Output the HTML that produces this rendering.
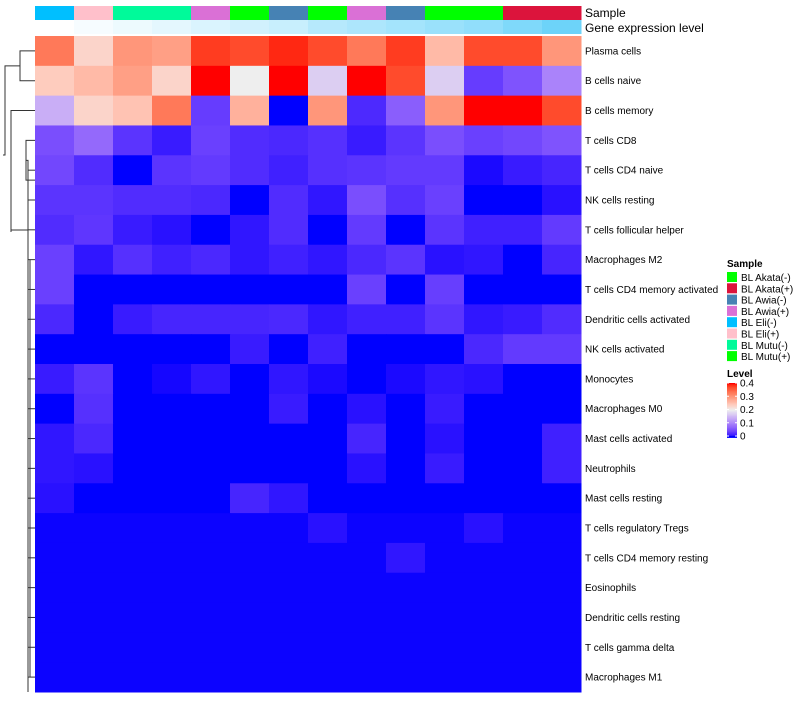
<!DOCTYPE html>
<html><head><meta charset="utf-8"><style>
body{margin:0;background:#fff;font-family:"Liberation Sans",sans-serif;}
svg text{font-family:"Liberation Sans",sans-serif;}
</style></head><body>
<svg id="chart" width="800" height="700">
<g id="dendro" stroke="#333" fill="none" stroke-width="1"></g>
<g id="anno"></g>
<g id="cells"></g>
<g id="labels" font-size="10" fill="#000"></g>
<g id="legend"></g>
</svg>
<script>
const rowNames=["Plasma cells","B cells naive","B cells memory","T cells CD8","T cells CD4 naive","NK cells resting","T cells follicular helper","Macrophages M2","T cells CD4 memory activated","Dendritic cells activated","NK cells activated","Monocytes","Macrophages M0","Mast cells activated","Neutrophils","Mast cells resting","T cells regulatory  Tregs","T cells CD4 memory resting","Eosinophils","Dendritic cells resting","T cells gamma delta","Macrophages M1"];
const sampleCols=["BL Eli(-)","BL Eli(+)","BL Mutu(-)","BL Mutu(-)","BL Awia(+)","BL Mutu(+)","BL Awia(-)","BL Mutu(+)","BL Awia(+)","BL Awia(-)","BL Akata(-)","BL Akata(-)","BL Akata(+)","BL Akata(+)"];
const geneLevel=[0,0.05,0.1,0.15,0.2,0.25,0.3,0.4,0.45,0.5,0.55,0.6,0.7,0.8];
const legendSamples=["BL Akata(-)","BL Akata(+)","BL Awia(-)","BL Awia(+)","BL Eli(-)","BL Eli(+)","BL Mutu(-)","BL Mutu(+)"];
const levelTicks=[0,0.1,0.2,0.3,0.4];
const values=[
[0.33,0.23,0.30,0.29,0.38,0.37,0.39,0.37,0.33,0.38,0.26,0.37,0.37,0.30],
[0.24,0.26,0.29,0.23,0.42,0.20,0.42,0.17,0.42,0.37,0.17,0.035,0.055,0.10],
[0.14,0.23,0.25,0.33,0.035,0.27,0.00,0.30,0.02,0.065,0.30,0.42,0.41,0.37],
[0.05,0.075,0.028,0.011,0.038,0.022,0.019,0.025,0.011,0.028,0.05,0.038,0.044,0.055],
[0.044,0.022,0.00,0.028,0.033,0.022,0.014,0.025,0.028,0.033,0.033,0.003,0.011,0.017],
[0.028,0.028,0.022,0.022,0.019,0.00,0.022,0.008,0.05,0.025,0.038,0.00,0.00,0.006],
[0.022,0.03,0.011,0.006,0.00,0.008,0.022,0.00,0.033,0.00,0.028,0.014,0.014,0.033],
[0.038,0.008,0.025,0.014,0.019,0.008,0.014,0.008,0.019,0.028,0.006,0.008,0.00,0.017],
[0.038,0,0,0,0,0,0,0,0.038,0,0.036,0,0,0],
[0.019,0,0.011,0.017,0.017,0.017,0.019,0.008,0.014,0.014,0.028,0.008,0.011,0.022],
[0,0,0,0,0,0.011,0,0.014,0,0,0,0.019,0.033,0.033],
[0.011,0.028,0,0.002,0.008,0,0.008,0.003,0,0.003,0.008,0.006,0,0],
[0,0.025,0,0,0,0,0.011,0,0.006,0,0.011,0,0,0],
[0.008,0.019,0,0,0,0,0,0,0.017,0,0.006,0,0,0.014],
[0.008,0.006,0,0,0,0,0,0,0.006,0,0.011,0,0,0.014],
[0.006,0,0,0,0,0.017,0.008,0,0,0,0,0,0,0],
[0.001,0.001,0.001,0.001,0.001,0.001,0.001,0.006,0.001,0.001,0.001,0.006,0.001,0.001],
[0.001,0.001,0.001,0.001,0.001,0.001,0.001,0.001,0.001,0.008,0.001,0.001,0.001,0.001],
[0.001,0.001,0.001,0.001,0.001,0.001,0.001,0.001,0.001,0.001,0.001,0.001,0.001,0.001],
[0.001,0.001,0.001,0.001,0.001,0.001,0.001,0.001,0.001,0.001,0.001,0.001,0.001,0.001],
[0.001,0.001,0.001,0.001,0.001,0.001,0.001,0.001,0.001,0.001,0.001,0.001,0.001,0.001],
[0.001,0.001,0.001,0.001,0.001,0.001,0.001,0.001,0.001,0.001,0.001,0.001,0.001,0.001]];
const sampleColor={"BL Akata(-)":"#00ff00","BL Akata(+)":"#dc143c","BL Awia(-)":"#4682b4","BL Awia(+)":"#da70d6","BL Eli(-)":"#00bfff","BL Eli(+)":"#ffc0cb","BL Mutu(-)":"#00fa9a","BL Mutu(+)":"#00ff00"};

const NS="http://www.w3.org/2000/svg";
function mk(t,a,p){const e=document.createElementNS(NS,t);for(const k in a)e.setAttribute(k,a[k]);p.appendChild(e);return e;}
function toLab(h){let r=parseInt(h.substr(1,2),16)/255,g=parseInt(h.substr(3,2),16)/255,b=parseInt(h.substr(5,2),16)/255;
[r,g,b]=[r,g,b].map(c=>c>0.04045?Math.pow((c+0.055)/1.055,2.4):c/12.92);
let x=(r*0.4124+g*0.3576+b*0.1805)/0.95047,y=r*0.2126+g*0.7152+b*0.0722,z=(r*0.0193+g*0.1192+b*0.9505)/1.08883;
const f=t=>t>0.008856?Math.cbrt(t):7.787*t+16/116;x=f(x);y=f(y);z=f(z);return[116*y-16,500*(x-y),200*(y-z)];}
function fromLab(L,a,bb){let y=(L+16)/116,x=a/500+y,z=y-bb/200;const fi=t=>t*t*t>0.008856?t*t*t:(t-16/116)/7.787;
x=fi(x)*0.95047;y=fi(y);z=fi(z)*1.08883;
let r=x*3.2406+y*-1.5372+z*-0.4986,g=x*-0.9689+y*1.8758+z*0.0415,b=x*0.0557+y*-0.2040+z*1.0570;
return "rgb("+[r,g,b].map(c=>{c=c>0.0031308?1.055*Math.pow(c,1/2.4)-0.055:12.92*c;return Math.round(Math.max(0,Math.min(1,c))*255);}).join(",")+")";}
const stops=[[0,toLab("#0000ff")],[0.2,toLab("#eeeeee")],[0.4,toLab("#ff0000")]];
function color(v){v=Math.max(0,Math.min(0.4,v));let i=v<=0.2?0:1;const [a,la]=stops[i],[b,lb]=stops[i+1];const t=(v-a)/(b-a);
return fromLab(la[0]+t*(lb[0]-la[0]),la[1]+t*(lb[1]-la[1]),la[2]+t*(lb[2]-la[2]));}
function geneColor(v){const w=[255,255,255],c=[72,200,248];return "rgb("+w.map((x,i)=>Math.round(x+v*(c[i]-x))).join(",")+")";}

const X0=35,X1=581,Y0=36,Y1=692;
const cw=(X1-X0)/sampleCols.length,rh=(Y1-Y0)/rowNames.length;
const xS=j=>X0+j*cw, yS=i=>Y0+i*rh;

const anno=document.getElementById('anno');
sampleCols.forEach((s,j)=>{
 const r=mk('rect',{x:xS(j),y:6,width:cw+0.5,height:14,fill:sampleColor[s]},anno);
 
 
 const g=mk('rect',{x:xS(j),y:20,width:cw+0.5,height:14,fill:geneColor(geneLevel[j])},anno);
 
 
});
let t=mk('text',{x:585,y:17,"font-size":12},anno);t.textContent="Sample";

t=mk('text',{x:585,y:32,"font-size":12},anno);t.textContent="Gene expression level";


const cells=document.getElementById('cells'),labels=document.getElementById('labels');
values.forEach((row,i)=>{
 row.forEach((v,j)=>{
  const c=mk('rect',{x:xS(j),y:yS(i),width:cw+0.5,height:rh+0.5,fill:color(v)},cells);
  
  
 });
 const l=mk('text',{x:585,y:yS(i)+rh/2+3.5},labels);l.textContent=rowNames[i];
 l.setAttribute('xml:space','preserve');
 
 
});

const dg=document.getElementById('dendro');
const cy=i=>yS(i)+rh/2;
function seg(d){mk('path',{d:d},dg);}
seg(`M35 ${cy(0)} H20 V${cy(1)} H35`);
seg(`M20 ${(cy(0)+cy(1))/2} H5 V155 H3`);
seg(`M35 ${cy(2)} H11 V232 H11`);
seg(`M11 ${cy(2)} V230`);
seg(`M35 ${cy(3)} H26 V${cy(4)+10} H35`);
seg(`M26 ${cy(3)+20} H28 V${Y1}`);
seg(`M11 230 H28`);
for(let i=4;i<rowNames.length;i++){seg(`M28 ${cy(i)} H35`);}
for(let i=7;i<rowNames.length-1;i++){seg(`M30 ${cy(i)} V${cy(i+1)}`);}

const lg=document.getElementById('legend');
t=mk('text',{x:727,y:267,"font-size":10,"font-weight":"bold"},lg);t.textContent="Sample";

legendSamples.forEach((s,k)=>{
 const y=272+k*11.3;
 const r=mk('rect',{x:727,y:y,width:10,height:10,fill:sampleColor[s]},lg);
 
 
 const tx=mk('text',{x:741,y:y+9,"font-size":10},lg);tx.textContent=s;
 
 
});
t=mk('text',{x:727,y:377,"font-size":10,"font-weight":"bold"},lg);t.textContent="Level";

const cb0=383,cb1=436;
for(let k=0;k<=40;k++){
 const v=0.4*(1-k/40);
 mk('rect',{x:727,y:cb0+k*(cb1-cb0)/40,width:10,height:(cb1-cb0)/40+0.6,fill:color(v)},lg);
}
levelTicks.forEach(v=>{
 const y=cb1-(v/0.4)*(cb1-cb0);
 mk('line',{x1:727,x2:729,y1:y,y2:y,stroke:"#fff"},lg);
 mk('line',{x1:735,x2:737,y1:y,y2:y,stroke:"#fff"},lg);
 const tx=mk('text',{x:740,y:y+3.5,"font-size":10},lg);tx.textContent=String(v);
 
 
});
</script>
</body></html>
